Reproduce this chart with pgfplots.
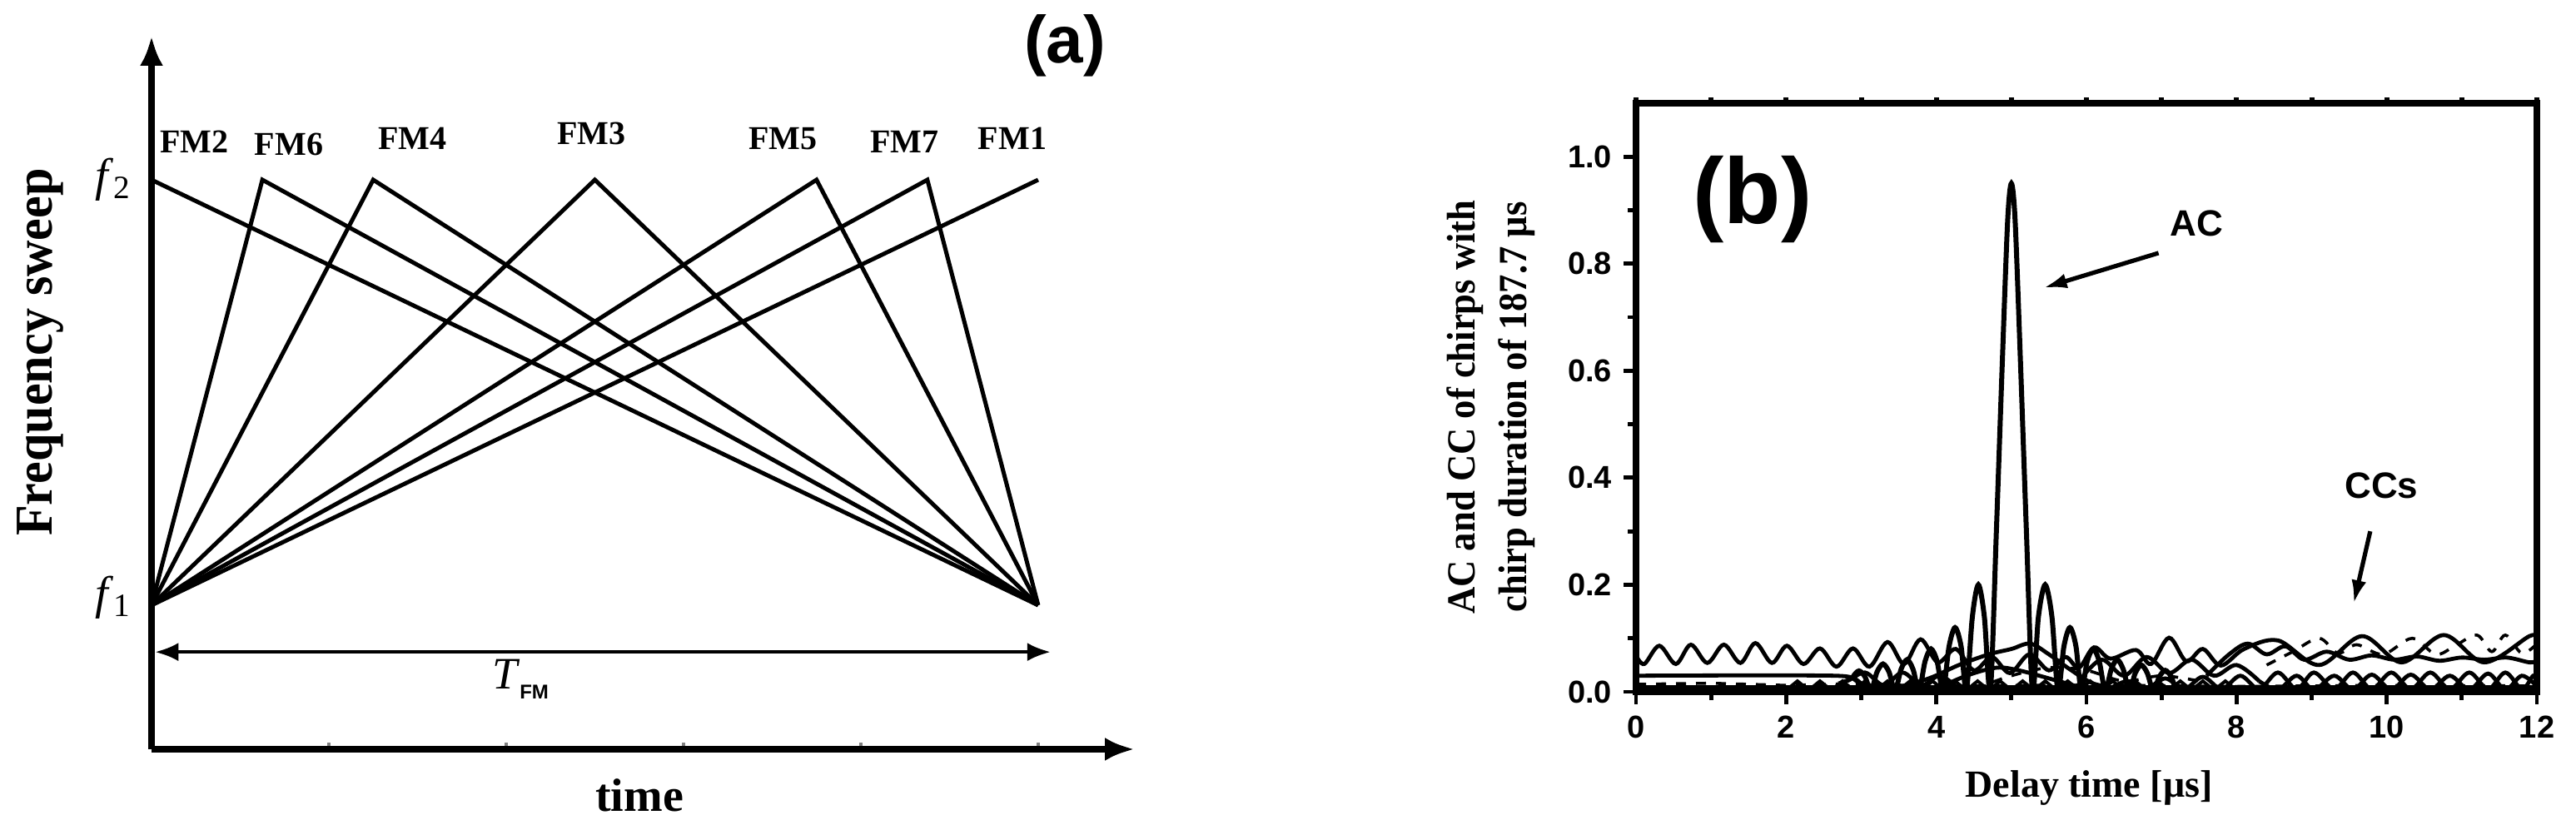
\documentclass[border=0pt]{standalone}
\usepackage{fontspec}
\setmainfont{Liberation Serif}
\newfontfamily\arial{Liberation Sans}
\usepackage{graphicx}
\usepackage{pgfplots}
\pgfplotsset{compat=1.18}
\usetikzlibrary{arrows.meta}

\tikzset{
  fm/.style={black, line width=1.25pt},
  cc/.style={black, line width=1.2pt, smooth, tension=0.55},
  fmlab/.style={font=\bfseries\fontsize{10}{12}\selectfont},
}

\begin{document}
\begin{tikzpicture}
\useasboundingbox (0,0) rectangle (773.5pt,247.75pt);

% ---------- (a) frequency sweep of the chirps
\begin{axis}[
  at={(45.5pt,22.75pt)}, anchor=south west,
  scale only axis, width=295.25pt, height=214.25pt,
  xmin=0, xmax=1.109, ymin=-0.3386, ymax=1.3386,
  axis lines=left,
  axis line style={line width=2pt, -{Latex[length=9pt,width=7pt]}},
  xtick={0.2,0.4,0.6,0.8,1}, xticklabels={},
  ytick=\empty,
  tick align=inside, major tick length=2pt,
  tick style={line width=1pt},
  clip=false,
]
\addplot[fm] coordinates {(0,1) (1,0)};        % FM2
\addplot[fm] coordinates {(0,0) (0.125,1) (1,0)}; % FM6
\addplot[fm] coordinates {(0,0) (0.25,1) (1,0)};  % FM4
\addplot[fm] coordinates {(0,0) (0.5,1) (1,0)};   % FM3
\addplot[fm] coordinates {(0,0) (0.75,1) (1,0)};  % FM5
\addplot[fm] coordinates {(0,0) (0.875,1) (1,0)}; % FM7
\addplot[fm] coordinates {(0,0) (1,1)};        % FM1

\node[fmlab] at (axis cs:0.048,1.09) {FM2};
\node[fmlab] at (axis cs:0.155,1.084) {FM6};
\node[fmlab] at (axis cs:0.294,1.097) {FM4};
\node[fmlab] at (axis cs:0.496,1.109) {FM3};
\node[fmlab] at (axis cs:0.712,1.097) {FM5};
\node[fmlab] at (axis cs:0.849,1.09) {FM7};
\node[fmlab] at (axis cs:0.971,1.098) {FM1};

\draw[{Latex[length=7pt,width=5.5pt]}-{Latex[length=7pt,width=5.5pt]}, line width=1pt]
  (axis cs:0.004,-0.11) -- (axis cs:1.014,-0.11);
\end{axis}

\node[font=\fontsize{14}{16}\selectfont] at (34pt,193.75pt) {\textit{f}\textsubscript{2}};
\node[font=\fontsize{14}{16}\selectfont] at (34pt,68.25pt) {\textit{f}\textsubscript{1}};
\node[rotate=90, anchor=base, inner sep=0pt, font=\bfseries\fontsize{16}{18}\selectfont]
  at (15.75pt,142pt) {\scalebox{0.94}[1]{Frequency sweep}};
\node[font=\bfseries\fontsize{14}{16}\selectfont] at (192pt,9pt) {time};
\node at (156.25pt,43.75pt) {\fontsize{13.5}{15}\selectfont\textit{T}\raisebox{-0.5ex}{\arial\bfseries\fontsize{6}{7}\selectfont FM}};
\node[font=\arial\bfseries\fontsize{20}{22}\selectfont] at (319.75pt,234pt) {(a)};

% ---------- (b) AC and CC
% small ticks on the top edge
\begin{axis}[
  at={(491.25pt,40pt)}, anchor=south west,
  scale only axis, width=270.5pt, height=176.75pt,
  xmin=0, xmax=12, ymin=0, ymax=1.1,
  axis x line*=top, axis y line=none,
  axis line style={line width=2pt, -},
  xtick={0,1,...,12}, xticklabels={},
  tick align=outside, major tick length=1.8pt,
  tick style={line width=1.5pt, black},
]
\end{axis}
\begin{axis}[
  at={(491.25pt,40pt)}, anchor=south west,
  scale only axis, width=270.5pt, height=176.75pt,
  xmin=0, xmax=12, ymin=0, ymax=1.1,
  axis line style={line width=2pt},
  xtick={0,2,...,12}, minor x tick num=1,
  ytick={0,0.2,0.4,0.6,0.8,1.0}, minor y tick num=1,
  tick pos=left, tick align=outside,
  major tick length=3.75pt, minor tick length=2.5pt,
  tick style={line width=1.2pt, black},
  ticklabel style={font=\arial\bfseries\fontsize{9.5}{11}\selectfont},
  /pgf/number format/assume math mode=true,
  yticklabel style={/pgf/number format/.cd, fixed, fixed zerofill, precision=1},
  clip=true,
]
% bottom band
\addplot[black, line width=2.5pt] coordinates {(0,0.004) (12,0.004)};
\addplot[black, line width=0.9pt, dashed] coordinates {(0,0.014) (1,0.016) (2,0.012) (3,0.015) (4,0.010) (6,0.013) (8,0.010) (10,0.012) (12,0.011)};
% flat CC on the left
\addplot[cc] coordinates {(0,0.03) (2.65,0.03) (2.8,0.02) (3.05,0.036) (3.3,0.012) (3.55,0.036) (3.8,0.012) (4.05,0.03) (4.3,0.005)};
% small triangles
\addplot[black, line width=1pt] coordinates {
(2.0,0.003) (2.15,0.02) (2.3,0.003) (2.45,0.02) (2.6,0.003) (2.75,0.02) (2.9,0.003)
(3.05,0.02) (3.2,0.003) (3.35,0.02) (3.5,0.003) (3.65,0.02) (3.8,0.003) (3.95,0.02)
(4.1,0.003) (4.25,0.02) (4.4,0.003) (4.55,0.02) (4.7,0.003) (4.85,0.02) (5.0,0.003)
(5.15,0.02) (5.3,0.003) (5.45,0.02) (5.6,0.003) (5.75,0.02) (5.9,0.003) (6.05,0.02)
(6.2,0.003) (6.35,0.02) (6.5,0.003) (6.65,0.02) (6.8,0.003) (6.95,0.02) (7.1,0.003)
(7.25,0.02) (7.4,0.003) (7.55,0.02) (7.7,0.003) (7.85,0.02) (8.0,0.003)};
% ripple CC running over the whole range
\addplot[cc] coordinates {
(0,0.068) (0.11,0.052) (0.31,0.086) (0.53,0.052) (0.73,0.088) (0.95,0.054)
(1.17,0.088) (1.39,0.054) (1.59,0.091) (1.81,0.054) (2.01,0.086) (2.23,0.052)
(2.45,0.081) (2.67,0.047) (2.89,0.081) (3.11,0.047) (3.35,0.093) (3.57,0.052)
(3.79,0.098) (4.02,0.055) (4.26,0.08) (4.5,0.04) (4.74,0.065) (4.98,0.035)
(5.24,0.07) (5.5,0.04) (5.72,0.065) (5.9,0.045) (6.1,0.083) (6.32,0.062)
(6.66,0.078) (6.86,0.052) (7.1,0.101) (7.33,0.057) (7.55,0.08) (7.79,0.049)
(8.1,0.08) (8.55,0.096) (9.1,0.05) (9.67,0.104) (10.2,0.055) (10.76,0.106)
(11.3,0.055) (11.9,0.104) (12,0.1)};
\addplot[cc] coordinates {(7.6,0.03) (7.9,0.07) (8.15,0.09) (8.4,0.07) (8.65,0.085) (8.9,0.06) (9.2,0.075) (9.5,0.06) (9.8,0.068) (10.1,0.06) (10.4,0.066) (10.7,0.058) (11.0,0.064) (11.3,0.06) (11.6,0.064) (11.9,0.055) (12,0.058)};
\addplot[cc, line width=0.9pt, dashed] coordinates {(8.4,0.05) (8.75,0.075) (9.1,0.1) (9.35,0.072) (9.6,0.088) (9.95,0.07) (10.34,0.1) (10.65,0.07) (10.9,0.085) (11.2,0.106) (11.4,0.075) (11.58,0.106) (11.8,0.072) (12,0.09)};
% humps in the middle
\addplot[cc] coordinates {(3.4,0.005) (3.9,0.025) (4.3,0.05) (4.7,0.07) (5.0,0.08) (5.25,0.09) (5.5,0.07) (5.8,0.04) (6.1,0.015) (6.5,0.005)};
\addplot[cc] coordinates {(4.0,0.005) (4.4,0.03) (4.8,0.045) (5.1,0.04) (5.5,0.025) (6.0,0.005)};
\addplot[cc, line width=0.9pt, dashed] coordinates {(4.5,0.005) (5.0,0.03) (5.5,0.045) (6.0,0.04) (6.5,0.02) (7.0,0.03) (7.5,0.02)};
\addplot[cc] coordinates {(5.9,0.02) (6.2,0.06) (6.5,0.03) (6.8,0.065) (7.1,0.035) (7.4,0.06) (7.7,0.03) (8.0,0.05) (8.3,0.02)};
% low humps on the right
\addplot[cc] coordinates {
(6.3,0.005) (6.55,0.02) (6.8,0.005) (7.05,0.025) (7.3,0.005) (7.55,0.028) (7.8,0.005)
(8.05,0.03) (8.3,0.005) (8.55,0.036) (8.8,0.005) (9.03,0.036) (9.3,0.005) (9.55,0.036)
(9.8,0.005) (10.06,0.036) (10.32,0.005) (10.58,0.036) (10.84,0.005) (11.1,0.036)
(11.35,0.005) (11.58,0.036) (11.8,0.005) (11.95,0.03) (12,0.025)};
\addplot[cc] coordinates {
(8.3,0.02) (8.55,0.004) (8.8,0.03) (9.03,0.004) (9.3,0.03) (9.55,0.004) (9.8,0.032)
(10.06,0.004) (10.32,0.032) (10.58,0.004) (10.84,0.03) (11.1,0.004) (11.35,0.034)
(11.58,0.004) (11.8,0.03) (12,0.01)};
% autocorrelation
\addplot[cc, line width=1.5pt, tension=0.5] coordinates {
(0,0.003) (2.81,0.003)
(2.89,0.028) (2.97,0.039) (3.05,0.028) (3.13,0.002)
(3.21,0.037) (3.29,0.052) (3.37,0.037) (3.45,0.002)
(3.53,0.042) (3.61,0.06) (3.69,0.042) (3.77,0.002)
(3.85,0.057) (3.93,0.08) (4.01,0.057) (4.09,0.002)
(4.17,0.085) (4.25,0.12) (4.33,0.085) (4.40,0.002)
(4.48,0.14) (4.56,0.20) (4.64,0.14) (4.72,0.002)
(4.80,0.30) (4.88,0.62) (4.95,0.88) (5.0,0.95) (5.05,0.88) (5.12,0.62) (5.20,0.30) (5.28,0.002)
(5.36,0.14) (5.45,0.20) (5.54,0.14) (5.62,0.002)
(5.70,0.085) (5.78,0.12) (5.86,0.085) (5.93,0.002)
(6.01,0.057) (6.09,0.08) (6.17,0.057) (6.25,0.002)
(6.33,0.042) (6.41,0.06) (6.49,0.042) (6.57,0.002)
(6.65,0.035) (6.73,0.05) (6.81,0.035) (6.89,0.002)
(6.97,0.028) (7.05,0.04) (7.13,0.028) (7.21,0.002)
(7.4,0.003) (12,0.003)};

\node[font=\arial\bfseries\fontsize{28}{30}\selectfont] at (axis cs:1.55,0.92) {(b)};
\node[font=\arial\bfseries\fontsize{11}{12}\selectfont] at (axis cs:7.47,0.875) {AC};
\node[font=\arial\bfseries\fontsize{11}{12}\selectfont] at (axis cs:9.93,0.386) {CCs};
\draw[-{Latex[length=7pt,width=4.5pt]}, line width=1.3pt] (axis cs:6.96,0.82) -- (axis cs:5.43,0.755);
\draw[-{Latex[length=7pt,width=4.5pt]}, line width=1.3pt] (axis cs:9.78,0.30) -- (axis cs:9.56,0.165);
\end{axis}

\node[rotate=90, align=center, font=\bfseries\fontsize{12}{15.5}\selectfont]
  at (447.75pt,125.5pt)
  {\scalebox{0.93}[1]{AC and CC of chirps with}\\ \scalebox{0.93}[1]{chirp duration of 187.7 μs}};
\node[font=\bfseries\fontsize{11.5}{13}\selectfont] at (627.25pt,11pt) {Delay time [μs]};
\end{tikzpicture}
\end{document}
